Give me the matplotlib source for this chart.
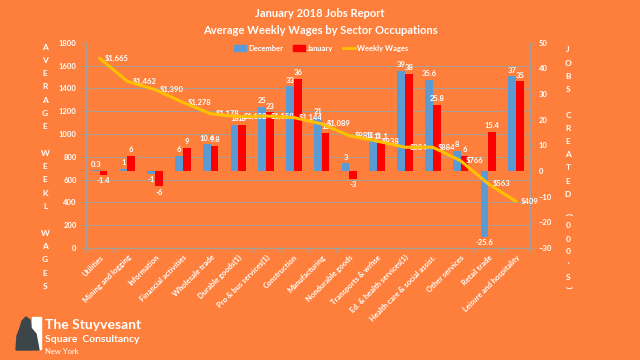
import matplotlib
matplotlib.use("Agg")
import matplotlib.pyplot as plt
import numpy as np
from matplotlib.lines import Line2D
from matplotlib.patches import Patch, Rectangle, Polygon

plt.rcParams['font.family'] = ['Lato', 'DejaVu Sans']

# data
sectors = ["Utilities", "Mining and logging", "Information", "Financial activities",
           "Wholesale trade", "Durable goods(1)", "Pro & bus services(1)", "Construction",
           "Manufacturing", "Nondurable goods", "Transports & wrhse",
           "Ed. & health services(1)", "Health care & social assist.", "Other services",
           "Retail trade", "Leisure and hospitality"]
december = [0.3, 1, -1, 6, 10.4, 18, 25, 33, 21, 3, 11.6, 39, 35.6, 8, -25.6, 37]
january = [-1.4, 6, -6, 9, 9.8, 18, 23, 36, 15, -3, 11.1, 38, 25.8, 6, 15.4, 35]
weekly_wages = [1665, 1462, 1390, 1278, 1178, 1152, 1158, 1144, 1089, 985, 938,
                884, 884, 766, 563, 409]

BG = '#fe7f3c'
BLUE = '#5b9bd5'
RED = '#ff0000'
GOLD = '#ffc000'
GRID = '#a8a098'

JOBS_LIM = (-30, 50)
WAGE_LIM = (0, 1800)

fig = plt.figure(figsize=(6.4, 3.6), dpi=100, facecolor=BG)
ax = fig.add_axes([0.134, 0.311, 0.694, 0.570])  # jobs axis (right)
ax.set_facecolor(BG)
ax2 = ax.twinx()  # wages axis (left), drawn on top
ax.yaxis.tick_right()
ax2.yaxis.tick_left()

x = np.arange(len(sectors))
w = 0.28
ax.bar(x - w / 2, december, w, color=BLUE, zorder=3)
ax.bar(x + w / 2, january, w, color=RED, zorder=3)

for xi, d, j in zip(x, december, january):
    for xx, v in ((xi - w / 2, d), (xi + w / 2, j)):
        off = 1.0 if v >= 0 else -1.0
        ax.text(xx, v + off, f"{v:g}", ha='center', va='bottom' if v >= 0 else 'top',
                color='white', fontsize=5.5, fontweight='bold', zorder=5)

ax.set_ylim(*JOBS_LIM)
ax.set_yticks(np.arange(-30, 51, 10))
ax.set_xlim(-0.5, len(sectors) - 0.5)

# horizontal gridlines follow the wage ticks, kept behind the bars
wage_ticks = np.arange(0, 1801, 200)
grid_pos = JOBS_LIM[0] + wage_ticks / WAGE_LIM[1] * (JOBS_LIM[1] - JOBS_LIM[0])
ax.set_yticks(grid_pos, minor=True)
ax.tick_params(axis='y', which='minor', length=0)
ax.grid(axis='y', which='minor', color=GRID, lw=0.7)
ax.grid(axis='y', which='major', visible=False)
ax.set_axisbelow(True)

ax2.plot(x, weekly_wages, color=GOLD, lw=2.2, solid_capstyle='round', zorder=4)
for xi, v in zip(x, weekly_wages):
    ax2.annotate(f"${v:,}", (xi, v), xytext=(3.5, 0), textcoords='offset points',
                 ha='left', va='center', color='white', fontsize=5.5, fontweight='bold')
ax2.set_ylim(*WAGE_LIM)
ax2.set_yticks(wage_ticks)

for a in (ax, ax2):
    a.spines['top'].set_visible(False)
    for s in ('left', 'right', 'bottom'):
        a.spines[s].set_color(GRID)
        a.spines[s].set_linewidth(0.8)
    a.tick_params(axis='y', which='major', colors='white', labelsize=5.5, length=3,
                  color=GRID, width=0.7)
    for lab in a.get_yticklabels():
        lab.set_fontweight('bold')

ax.set_xticks(x)
ax.set_xticklabels(sectors, rotation=45, ha='right', rotation_mode='anchor',
                   fontsize=5.5, fontweight='bold', color='white')
ax.tick_params(axis='x', length=0, pad=4)
ax.set_xticks(np.arange(-0.5, len(sectors)), minor=True)
ax.tick_params(axis='x', which='minor', length=3, color=GRID, width=0.7)

handles = [Patch(color=BLUE, label='December'), Patch(color=RED, label='January'),
           Line2D([], [], color=GOLD, lw=2, label='Weekly Wages')]
leg = ax2.legend(handles=handles, loc='center', bbox_to_anchor=(0.502, 0.866),
                 bbox_transform=fig.transFigure, ncol=3, frameon=False, fontsize=5.5,
                 handlelength=1.6, handleheight=0.7, columnspacing=1.2, handletextpad=0.3)
for t in leg.get_texts():
    t.set_color('white')
    t.set_fontweight('bold')

fig.text(0.5, 0.962, "January 2018 Jobs Report", ha='center', va='center',
         color='white', fontsize=8, fontweight='bold')
fig.text(0.5, 0.914, "Average Weekly Wages by Sector Occupations", ha='center',
         va='center', color='white', fontsize=8, fontweight='bold')

left_label = list("AVERAGE") + [""] + list("WEEKL") + [""] + list("WAGES")
for i, ch in enumerate(left_label):
    fig.text(45 / 640, 1 - (47 + i * 13.3) / 360, ch, ha='center', va='center',
             color='white', fontsize=6, fontweight='bold')

right_label = list("JOBS") + [""] + list("CREATED")
for i, ch in enumerate(right_label):
    fig.text(568 / 640, 1 - (50 + i * 13.1) / 360, ch, ha='center', va='center',
             color='white', fontsize=6, fontweight='bold')
for ch, yy, rot in (("(", 214, -90), ("0", 226, 0), ("0", 239, 0), ("0", 252, 0),
                    ("'", 265, 0), ("S", 278, 0), (")", 287, -90)):
    fig.text(568 / 640, 1 - yy / 360, ch, ha='center', va='center', rotation=rot,
             color='white', fontsize=6, fontweight='bold')

# logo block
fig.patches.append(Rectangle((32 / 640, 1 - 349 / 360), 9 / 640, 32 / 360,
                             transform=fig.transFigure, color='white', zorder=1))
fig.patches.append(Polygon([(16 / 640, 1 - 350 / 360), (17 / 640, 1 - 336 / 360),
                            (20 / 640, 1 - 328 / 360), (22 / 640, 1 - 321 / 360),
                            (26 / 640, 1 - 317 / 360), (30 / 640, 1 - 320 / 360),
                            (31 / 640, 1 - 328 / 360), (36 / 640, 1 - 334 / 360),
                            (39 / 640, 1 - 350 / 360)],
                           closed=True, transform=fig.transFigure, color='#3c4649', zorder=2))
fig.text(45 / 640, 1 - 325 / 360, "The Stuyvesant", ha='left', va='center',
         color='white', fontsize=10, fontweight='bold')
fig.text(45 / 640, 1 - 340 / 360, "Square  Consultancy", ha='left', va='center',
         color='white', fontsize=7.5, fontweight='bold')
fig.text(45 / 640, 1 - 352 / 360, "New York", ha='left', va='center',
         color='white', fontsize=5.5)

fig.savefig("out.png", dpi=100, facecolor=BG)
